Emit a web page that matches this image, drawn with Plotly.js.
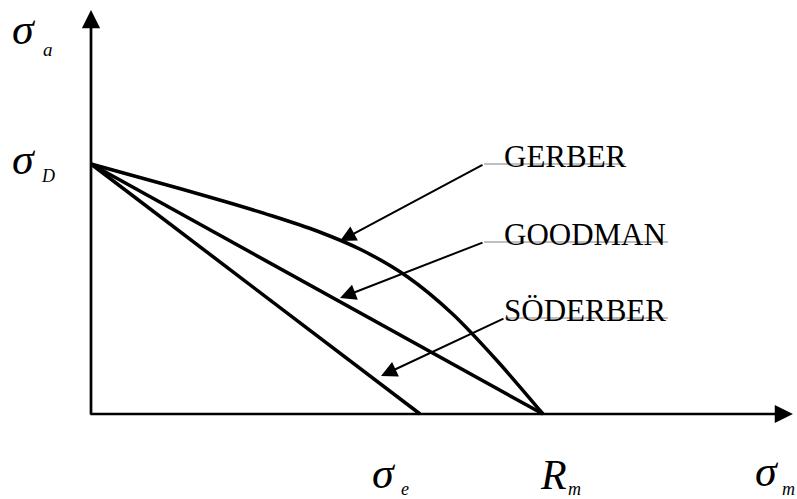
<!DOCTYPE html>
<html>
<head>
<meta charset="utf-8">
<script src="https://cdn.plot.ly/plotly-3.0.1.min.js"></script>
<style>
  html, body { margin: 0; padding: 0; background: #fff; }
  #chart { width: 797px; height: 499px; }
</style>
</head>
<body>
<div id="chart"></div>
<script>
// Fatigue limit diagram: amplitude stress vs. mean stress (normalised: sigma_D = 1, R_m = 1)
const curveNames = ['GERBER', 'GOODMAN', 'SÖDERBER'];

const sigmaD = 1.0;   // fatigue strength (intercept on the sigma_a axis)
const Rm = 1.0;       // ultimate tensile strength
const sigmaE = 0.728; // yield strength

// Gerber curve
const gerberX = [0, 0.1, 0.2, 0.3, 0.4, 0.5, 0.6, 0.7, 0.8, 0.9, 1.0];
const gerberY = [1.0, 0.950, 0.900, 0.848, 0.793, 0.732, 0.655, 0.549, 0.400, 0.210, 0.0];
// Goodman line
const goodmanX = [0, Rm];
const goodmanY = [sigmaD, 0];
// Soderberg line
const soderbergX = [0, sigmaE];
const soderbergY = [sigmaD, 0];

// axis extents (tips of the arrows)
const xAxisEnd = 1.553;
const yAxisEnd = 1.616;

// pixel helpers for placing the decorations
const W = 797, H = 499;
const OX = 91, OY = 414, SX = 452, SY = 250;
const X = p => (p - OX) / SX;
const Y = p => (OY - p) / SY;

const serif = 'Liberation Serif, Times New Roman, serif';
const ASC = 0.891;

function label(text, left, baseline, size, italic) {
  return {
    xref: 'x', yref: 'y',
    x: X(left - 1), y: Y(baseline - ASC * size - 1),
    xanchor: 'left', yanchor: 'top',
    text: italic ? '<i>' + text + '</i>' : text,
    showarrow: false,
    font: { family: serif, size: size, color: '#000' }
  };
}

function arrow(tipPx, tailPx, width, size) {
  return {
    xref: 'x', yref: 'y', axref: 'x', ayref: 'y',
    x: X(tipPx[0]), y: Y(tipPx[1]),
    ax: X(tailPx[0]), ay: Y(tailPx[1]),
    text: '', showarrow: true,
    arrowhead: 2, arrowsize: size, arrowwidth: width,
    arrowcolor: '#000', standoff: 0
  };
}

const lineStyle = { color: '#000', width: 3.5 };

const traces = [
  { x: gerberX, y: gerberY, mode: 'lines', name: curveNames[0],
    line: Object.assign({ shape: 'spline', smoothing: 0.8 }, lineStyle), hoverinfo: 'skip' },
  { x: goodmanX, y: goodmanY, mode: 'lines', name: curveNames[1], line: lineStyle, hoverinfo: 'skip' },
  { x: soderbergX, y: soderbergY, mode: 'lines', name: curveNames[2], line: lineStyle, hoverinfo: 'skip' }
];

const annotations = [
  // coordinate axes with arrow heads
  { xref: 'x', yref: 'y', axref: 'x', ayref: 'y', x: xAxisEnd, y: 0, ax: X(89), ay: 0,
    text: '', showarrow: true, arrowhead: 2, arrowsize: 1.35, arrowwidth: 2.7, arrowcolor: '#000', standoff: 0 },
  { xref: 'x', yref: 'y', axref: 'x', ayref: 'y', x: 0, y: yAxisEnd, ax: 0, ay: Y(416),
    text: '', showarrow: true, arrowhead: 2, arrowsize: 1.35, arrowwidth: 2.7, arrowcolor: '#000', standoff: 0 },

  // pointers from the curve names to the curves
  arrow([340, 241], [484, 164], 2, 1.6),
  arrow([340, 298], [484, 242], 2, 1.6),
  arrow([381, 376], [505, 318], 2, 1.6),

  // curve names
  label(curveNames[0], 503, 166, 31, false),
  label(curveNames[1], 503, 244, 31, false),
  label(curveNames[2], 503, 320, 31, false),

  // axis symbols
  label('σ', 11, 43, 44, true),
  label('a', 42, 55, 19, true),
  label('σ', 11, 173, 44, true),
  label('D', 40, 181, 18, true),
  label('σ', 371, 487, 44, true),
  label('e', 400, 494, 18, true),
  label('R', 539, 488, 42, true),
  label('m', 567, 494, 18, true),
  label('σ', 754, 485, 44, true),
  label('m', 781, 494, 18, true)
];

// thin leader lines under the curve names
const leader = (x0, x1, y) => ({
  type: 'line', xref: 'x', yref: 'y',
  x0: X(x0), x1: X(x1), y0: Y(y), y1: Y(y),
  line: { color: '#808080', width: 1.2 }
});

const layout = {
  width: W, height: H,
  margin: { l: 0, r: 0, t: 0, b: 0, pad: 0 },
  paper_bgcolor: '#fff', plot_bgcolor: '#fff',
  showlegend: false,
  xaxis: { range: [X(0), X(W)], visible: false, fixedrange: true },
  yaxis: { range: [Y(H), Y(0)], visible: false, fixedrange: true },
  shapes: [leader(484, 625, 164), leader(484, 668, 242), leader(505, 668, 318)],
  annotations: annotations
};

Plotly.newPlot('chart', traces, layout, { staticPlot: true, displayModeBar: false });
</script>
</body>
</html>
